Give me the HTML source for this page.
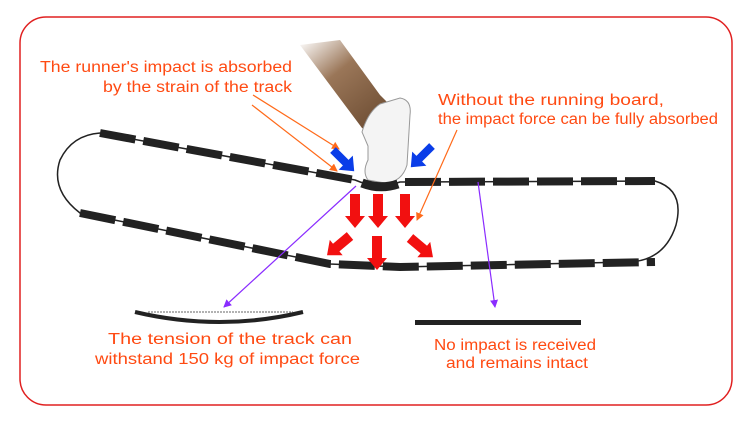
<!DOCTYPE html>
<html><head><meta charset="utf-8"><style>
html,body{margin:0;padding:0;background:#fff;width:750px;height:423px;overflow:hidden}
svg{display:block}
text{font-family:"Liberation Sans",sans-serif;font-size:15.5px;fill:#ff4a12}
</style></head><body>
<svg width="750" height="423" viewBox="0 0 750 423">
<defs>
<marker id="ao" markerWidth="8" markerHeight="8" refX="7" refY="4" orient="auto" markerUnits="userSpaceOnUse"><path d="M0,0 L8,4 L0,8 z" fill="#ff6a1a"/></marker>
<marker id="ap" markerWidth="8" markerHeight="8" refX="7" refY="4" orient="auto" markerUnits="userSpaceOnUse"><path d="M0,0 L8,4 L0,8 z" fill="#8a2cff"/></marker>
<linearGradient id="leg" x1="0" y1="0" x2="0.8" y2="1"><stop offset="0" stop-color="#fff"/><stop offset="0.4" stop-color="#9a7658"/><stop offset="1" stop-color="#6a4a30"/></linearGradient>
</defs>
<rect x="20" y="17" width="712" height="388" rx="26" fill="none" stroke="#e02020" stroke-width="1.5"/>
<!-- leg & shoe -->
<path d="M300,45 L340,40 L380,95 L395,110 L375,135 L362,128 Z" fill="url(#leg)"/>
<path d="M362,132 Q368,112 380,104 L400,98 Q412,100 410,115 L407,165 Q402,182 385,183 L368,180 Q362,172 368,160 L368,146 Z" fill="#f4f4f4" stroke="#999" stroke-width="1"/>
<!-- track thin -->
<path d="M100,133 L355,180 Q378,190 400,182 L655,181 Q685,190 676,225 Q665,260 630,262 L400,267 L330,264 L80,213 Q50,190 60,160 Q72,135 100,133" fill="none" stroke="#222" stroke-width="1.5"/>
<!-- track segments -->
<g stroke="#222" stroke-width="8" fill="none">
<path d="M100,133 L355,180" stroke-dasharray="36 8"/>
<path d="M362,183 Q380,190 398,184" stroke-width="9"/>
<path d="M405,182 L655,181" stroke-dasharray="36 8"/>
<path d="M80,213 L330,264 L400,267 L655,262" stroke-dasharray="36 8"/>
</g>
<!-- orange lines -->
<g stroke="#ff6a1a" stroke-width="1.2" fill="none">
<line x1="253" y1="95" x2="339" y2="149" marker-end="url(#ao)"/>
<line x1="252" y1="105" x2="337" y2="171" marker-end="url(#ao)"/>
<line x1="457" y1="130" x2="417" y2="220" marker-end="url(#ao)"/>
</g>
<!-- purple lines -->
<g stroke="#8a2cff" stroke-width="1.2" fill="none">
<line x1="356" y1="186" x2="224" y2="307" marker-end="url(#ap)"/>
<line x1="478" y1="182" x2="495" y2="307" marker-end="url(#ap)"/>
</g>
<!-- blue arrows -->
<g fill="#0a3de8">
<path d="M0,-4 L18,-4 L18,-10 L30,0 L18,10 L18,4 L0,4 Z" transform="translate(333,150) rotate(45)"/>
<path d="M0,-4 L18,-4 L18,-10 L30,0 L18,10 L18,4 L0,4 Z" transform="translate(432,146) rotate(135)"/>
</g>
<!-- red arrows -->
<g fill="#f21010">
<path d="M0,-5 L22,-5 L22,-10 L34,0 L22,10 L22,5 L0,5 Z" transform="translate(355,194) rotate(90)"/>
<path d="M0,-5 L22,-5 L22,-10 L34,0 L22,10 L22,5 L0,5 Z" transform="translate(378,194) rotate(90)"/>
<path d="M0,-5 L22,-5 L22,-10 L34,0 L22,10 L22,5 L0,5 Z" transform="translate(405,194) rotate(90)"/>
<path d="M0,-5 L18,-5 L18,-10 L30,0 L18,10 L18,5 L0,5 Z" transform="translate(350,236) rotate(140)"/>
<path d="M0,-5 L22,-5 L22,-10 L34,0 L22,10 L22,5 L0,5 Z" transform="translate(377,236) rotate(90)"/>
<path d="M0,-5 L18,-5 L18,-10 L30,0 L18,10 L18,5 L0,5 Z" transform="translate(410,238) rotate(40)"/>
</g>
<!-- lens -->
<path d="M135,312 Q220,332 303,312" fill="none" stroke="#222" stroke-width="4"/>
<line x1="148" y1="312" x2="293" y2="312" stroke="#666" stroke-width="1" stroke-dasharray="2 1"/>
<rect x="415" y="320" width="166" height="5" fill="#222"/>
<!-- texts -->
<text x="40" y="72" textLength="252" lengthAdjust="spacingAndGlyphs">The runner's impact is absorbed</text>
<text x="103" y="92" textLength="189" lengthAdjust="spacingAndGlyphs">by the strain of the track</text>
<text x="438" y="105" textLength="226" lengthAdjust="spacingAndGlyphs">Without the running board,</text>
<text x="438" y="124" textLength="280" lengthAdjust="spacingAndGlyphs">the impact force can be fully absorbed</text>
<text x="108" y="344" textLength="244" lengthAdjust="spacingAndGlyphs">The tension of the track  can</text>
<text x="95" y="364" textLength="265" lengthAdjust="spacingAndGlyphs">withstand 150 kg of impact force</text>
<text x="434" y="350" textLength="162" lengthAdjust="spacingAndGlyphs">No impact is received</text>
<text x="446" y="368" textLength="142" lengthAdjust="spacingAndGlyphs">and remains intact</text>
</svg>
</body></html>
